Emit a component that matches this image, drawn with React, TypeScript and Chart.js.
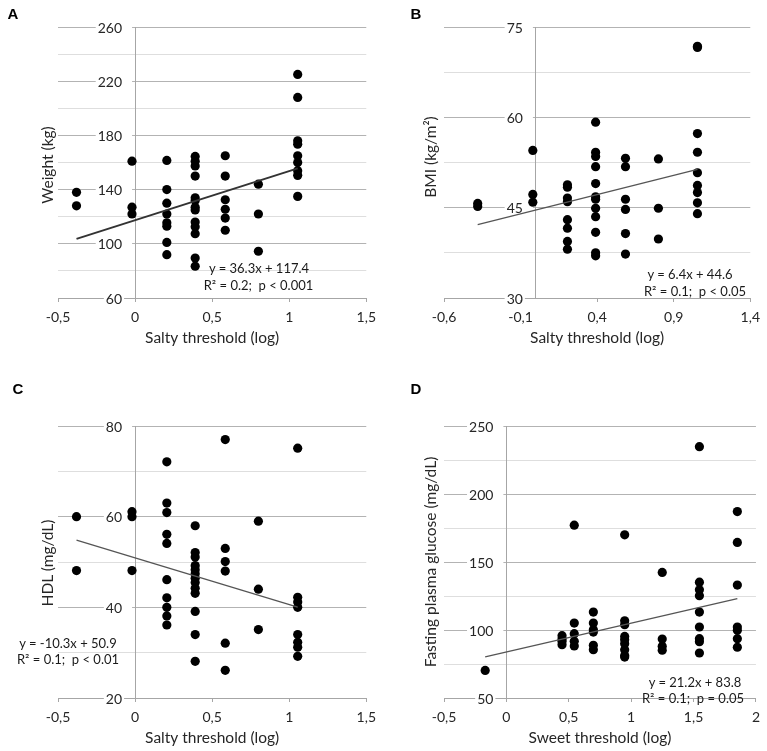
import React, { useEffect, useRef } from 'react';
import { Chart, registerables } from 'chart.js';

Chart.register(...registerables);

// ---------- DATA ----------
const saltyLevels = [-0.38, -0.02, 0.206, 0.39, 0.585, 0.8, 1.055];
const sweetLevels = [-0.17, 0.446, 0.544, 0.697, 0.948, 1.249, 1.547, 1.851];

const weightValues = [
  [138, 128],
  [161, 127, 122],
  [161.5, 140, 130, 122, 115.5, 113, 101, 92],
  [164.5, 161, 157.5, 150, 134, 132, 127, 125, 116, 112.5, 107.5, 89.5, 83.5],
  [165, 150, 132.5, 125.5, 119, 110],
  [144, 122, 94.5],
  [225, 208, 176, 173.5, 165, 160, 154, 150.5, 135],
];
const bmiValues = [
  [45.7, 45.2],
  [54.5, 47.2, 45.9],
  [48.8, 48.4, 46.6, 46.0, 43.0, 41.6, 39.4, 38.1],
  [59.2, 54.2, 53.5, 51.8, 49.0, 46.8, 46.4, 44.9, 43.5, 40.9, 37.5, 37.0],
  [53.2, 51.8, 46.4, 44.7, 40.7, 37.3],
  [53.1, 44.9, 39.8],
  [71.8, 71.6, 57.3, 54.2, 50.8, 48.7, 47.5, 45.8, 44.0],
];
const hdlValues = [
  [60, 48.1],
  [61.1, 60.0, 48.1],
  [72.1, 63.0, 60.9, 56.1, 54.1, 46.1, 42.1, 40.0, 38.1, 36.1],
  [58.0, 52.1, 51.1, 49.2, 48.3, 47.4, 46.4, 45.5, 44.2, 43.1, 39.1, 34.0, 28.1],
  [77.0, 53.0, 50.1, 48.0, 32.1, 26.1],
  [59.0, 44.0, 35.1],
  [75.1, 42.2, 41.2, 40.0, 34.0, 32.3, 31.2, 29.2],
];
const glucoseValues = [
  [70.3],
  [95.8, 93.4, 91.7, 89.2],
  [177.1, 105.1, 97.3, 91.7, 88.3],
  [113.2, 105.1, 100.2, 98.5, 88.7, 85.5],
  [170.0, 106.8, 103.9, 95.3, 92.9, 89.9, 85.5, 81.3, 80.1],
  [142.3, 93.4, 88.1, 85.1],
  [234.8, 135.2, 129.6, 125.2, 113.2, 102.2, 93.6, 91.4, 83.1],
  [187.1, 164.4, 133.0, 102.2, 99.8, 93.6, 87.3],
];

// regression coefficients [slope, intercept]
const weightFit = [36.3, 117.4];
const bmiFit = [6.4, 44.6];
const hdlFit = [-10.3, 50.9];
const glucoseFit = [21.2, 83.8];

// tick values
const saltyTicks = [-0.5, 0, 0.5, 1, 1.5];
const saltyTicksB = [-0.6, -0.1, 0.4, 0.9, 1.4];
const sweetTicks = [-0.5, 0, 0.5, 1, 1.5, 2];
const weightTicks = [60, 80, 100, 120, 140, 160, 180, 200, 220, 240, 260];
const bmiTicks = [30, 37.5, 45, 52.5, 60, 67.5, 75];
const hdlTicks = [20, 30, 40, 50, 60, 70, 80];
const glucoseTicks = [50, 75, 100, 125, 150, 175, 200, 225, 250];
const weightLabelStep = 40;
const bmiLabelStep = 15;
const hdlLabelStep = 20;
const glucoseLabelStep = 50;

const saltyTitle = 'Salty threshold (log)';
const sweetTitle = 'Sweet threshold (log)';

// ---------- LAYOUT / STYLE ----------
const FONT = 'Lato, "Open Sans", sans-serif';
const TEXT = '#262626';

type PanelSpec = {
  levels: number[];
  values: number[][];
  fit: number[];
  xTicks: number[];
  yTicks: number[];
  labelStep: number;
  xTitle: string;
  left: number;
  top: number;
  width: number;
  height: number;
  padding: { left: number; right: number; top: number; bottom: number };
  lineWidth: number;
  lineColor: string;
};

const panels: PanelSpec[] = [
  {
    levels: saltyLevels, values: weightValues, fit: weightFit,
    xTicks: saltyTicks, yTicks: weightTicks, labelStep: weightLabelStep, xTitle: saltyTitle,
    left: 0, top: 0, width: 383, height: 370,
    padding: { left: 58, right: 15, top: 27, bottom: 22 },
    lineWidth: 2, lineColor: '#333333',
  },
  {
    levels: saltyLevels, values: bmiValues, fit: bmiFit,
    xTicks: saltyTicksB, yTicks: bmiTicks, labelStep: bmiLabelStep, xTitle: saltyTitle,
    left: 383, top: 0, width: 384, height: 370,
    padding: { left: 61, right: 13, top: 27, bottom: 22 },
    lineWidth: 1.3, lineColor: '#555555',
  },
  {
    levels: saltyLevels, values: hdlValues, fit: hdlFit,
    xTicks: saltyTicks, yTicks: hdlTicks, labelStep: hdlLabelStep, xTitle: saltyTitle,
    left: 0, top: 370, width: 383, height: 381,
    padding: { left: 58, right: 15, top: 56, bottom: 3 },
    lineWidth: 1.3, lineColor: '#555555',
  },
  {
    levels: sweetLevels, values: glucoseValues, fit: glucoseFit,
    xTicks: sweetTicks, yTicks: glucoseTicks, labelStep: glucoseLabelStep, xTitle: sweetTitle,
    left: 383, top: 370, width: 384, height: 381,
    padding: { left: 61, right: 7, top: 56, bottom: 3 },
    lineWidth: 1.3, lineColor: '#555555',
  },
];

const fmt = (v: number) => String(Math.round(v * 1000) / 1000).replace('.', ',');
const isMajor = (v: number, min: number, step: number) => {
  const r = (v - min) / step;
  return Math.abs(r - Math.round(r)) < 1e-6;
};

// draws the y tick labels beside the axis that sits at x = 0
const yLabelPlugin = {
  id: 'yLabelsAtZero',
  beforeDatasetsDraw(chart: any, _args: any, opts: any) {
    const ys = chart.scales.y;
    const xs = chart.scales.x;
    const ctx = chart.ctx;
    const axisX = xs.getPixelForValue(0);
    const gap = opts.gap ?? 13;
    ctx.save();
    ctx.font = `14px ${FONT}`;
    ctx.textAlign = 'right';
    ctx.textBaseline = 'middle';
    (opts.values as number[]).forEach((v: number, i: number) => {
      const py = ys.getPixelForValue(v);
      const txt = fmt(v);
      const w = ctx.measureText(txt).width;
      const right = axisX - gap;
      const boxRight = i === 0 ? right + 2 : axisX - 3;
      ctx.fillStyle = '#ffffff';
      ctx.fillRect(right - w - 2, py - 2, boxRight - (right - w - 2), 4);
      ctx.fillStyle = TEXT;
      ctx.fillText(txt, right, py + 1);
    });
    ctx.restore();
  },
};

function ChartPanel({ spec }: { spec: PanelSpec }) {
  const ref = useRef<HTMLCanvasElement | null>(null);
  useEffect(() => {
    if (!ref.current) return;
    const points: { x: number; y: number }[] = [];
    spec.levels.forEach((lv, i) => spec.values[i].forEach((v) => points.push({ x: lv, y: v })));
    const xs = spec.levels;
    const minX = Math.min(...xs);
    const maxX = Math.max(...xs);
    const [a, b] = spec.fit;
    const trend = [
      { x: minX, y: a * minX + b },
      { x: maxX, y: a * maxX + b },
    ];
    const yMin = spec.yTicks[0];
    const majors = spec.yTicks.filter((v) => isMajor(v, yMin, spec.labelStep));
    const chart = new Chart(ref.current, {
      type: 'scatter',
      data: {
        datasets: [
          {
            data: points,
            backgroundColor: '#000000',
            borderWidth: 0,
            pointRadius: 4.6,
            pointHoverRadius: 4.6,
            order: 2,
          },
          {
            type: 'line',
            data: trend,
            borderColor: spec.lineColor,
            borderWidth: spec.lineWidth,
            pointRadius: 0,
            showLine: true,
            fill: false,
            order: 1,
          } as any,
        ],
      },
      plugins: [yLabelPlugin as any],
      options: {
        responsive: false,
        animation: false,
        events: [],
        layout: { padding: spec.padding },
        plugins: {
          legend: { display: false },
          tooltip: { enabled: false },
          yLabelsAtZero: { values: majors, gap: 13 },
        } as any,
        scales: {
          x: {
            type: 'linear',
            position: 'bottom',
            min: spec.xTicks[0],
            max: spec.xTicks[spec.xTicks.length - 1],
            afterBuildTicks: (s: any) => {
              s.ticks = spec.xTicks.map((v) => ({ value: v }));
            },
            afterFit: (s: any) => {
              s.height = 50;
            },
            grid: {
              drawOnChartArea: false,
              drawTicks: true,
              tickLength: 4,
              color: '#a6a6a6',
            },
            border: { display: true, color: '#a6a6a6', width: 1 },
            ticks: {
              padding: 7,
              color: TEXT,
              font: { family: FONT, size: 14 },
              maxRotation: 0,
              autoSkip: false,
              callback: (v: any) => fmt(Number(v)),
            },
            title: {
              display: true,
              text: spec.xTitle,
              color: TEXT,
              font: { family: FONT, size: 15.5 },
              padding: { top: 0, bottom: 1 },
            },
          },
          y: {
            type: 'linear',
            position: { x: 0 } as any,
            min: yMin,
            max: spec.yTicks[spec.yTicks.length - 1],
            afterBuildTicks: (s: any) => {
              s.ticks = spec.yTicks.map((v) => ({ value: v }));
            },
            grid: {
              drawOnChartArea: true,
              drawTicks: false,
              color: (ctx: any) =>
                ctx.tick && isMajor(ctx.tick.value, yMin, spec.labelStep) ? '#b3b3b3' : '#dedede',
            },
            border: { display: true, color: '#a6a6a6', width: 1 },
            ticks: { display: false },
          },
        },
      },
    });
    return () => chart.destroy();
  }, [spec]);
  return (
    <div style={{ position: 'absolute', left: spec.left, top: spec.top, width: spec.width, height: spec.height }}>
      <canvas ref={ref} width={spec.width} height={spec.height} style={{ display: 'block' }} />
    </div>
  );
}

type TextSpec = { text: string; x: number; y: number };

const panelLetters: TextSpec[] = [
  { text: 'A', x: 13, y: 12.5 },
  { text: 'B', x: 416, y: 12.5 },
  { text: 'C', x: 18, y: 388 },
  { text: 'D', x: 416, y: 388 },
];

const yTitles: TextSpec[] = [
  { text: 'Weight (kg)', x: 47, y: 165 },
  { text: 'BMI (kg/m²)', x: 430, y: 157 },
  { text: 'HDL (mg/dL)', x: 47, y: 563 },
  { text: 'Fasting plasma glucose (mg/dL)', x: 430, y: 562 },
];

const equations: TextSpec[] = [
  { text: 'y = 36.3x + 117.4', x: 259, y: 269 },
  { text: 'R² = 0.2;  p < 0.001', x: 258.5, y: 285.5 },
  { text: 'y = 6.4x + 44.6', x: 690, y: 275 },
  { text: 'R² = 0.1;  p < 0.05', x: 695, y: 292 },
  { text: 'y = -10.3x + 50.9', x: 68, y: 643.5 },
  { text: 'R² = 0.1;  p < 0.01', x: 68, y: 659.5 },
  { text: 'y = 21.2x + 83.8', x: 695, y: 683 },
  { text: 'R² = 0.1;  p = 0.05', x: 693, y: 699 },
];

export default function App() {
  return (
    <div
      style={{
        position: 'absolute',
        left: 0,
        top: 0,
        width: 767,
        height: 751,
        background: '#ffffff',
        overflow: 'hidden',
      }}
    >
      {panels.map((p, i) => (
        <ChartPanel key={i} spec={p} />
      ))}
      {panelLetters.map((t, i) => (
        <div
          key={'l' + i}
          style={{
            position: 'absolute',
            left: t.x,
            top: t.y,
            transform: 'translate(-50%, -50%)',
            font: 'bold 15px "Liberation Sans", Arial, sans-serif',
            color: '#000',
            lineHeight: '1',
            whiteSpace: 'nowrap',
          }}
        >
          {t.text}
        </div>
      ))}
      {yTitles.map((t, i) => (
        <div
          key={'y' + i}
          style={{
            position: 'absolute',
            left: t.x,
            top: t.y,
            transform: 'translate(-50%, -50%) rotate(-90deg)',
            fontFamily: FONT,
            fontSize: 15.5,
            color: TEXT,
            lineHeight: '1.2',
            whiteSpace: 'nowrap',
          }}
        >
          {t.text}
        </div>
      ))}
      {equations.map((t, i) => (
        <div
          key={'e' + i}
          style={{
            position: 'absolute',
            left: t.x,
            top: t.y,
            transform: 'translate(-50%, -50%)',
            fontFamily: FONT,
            fontSize: 13,
            color: '#1a1a1a',
            lineHeight: '1.2',
            whiteSpace: 'pre',
          }}
        >
          {t.text}
        </div>
      ))}
    </div>
  );
}
